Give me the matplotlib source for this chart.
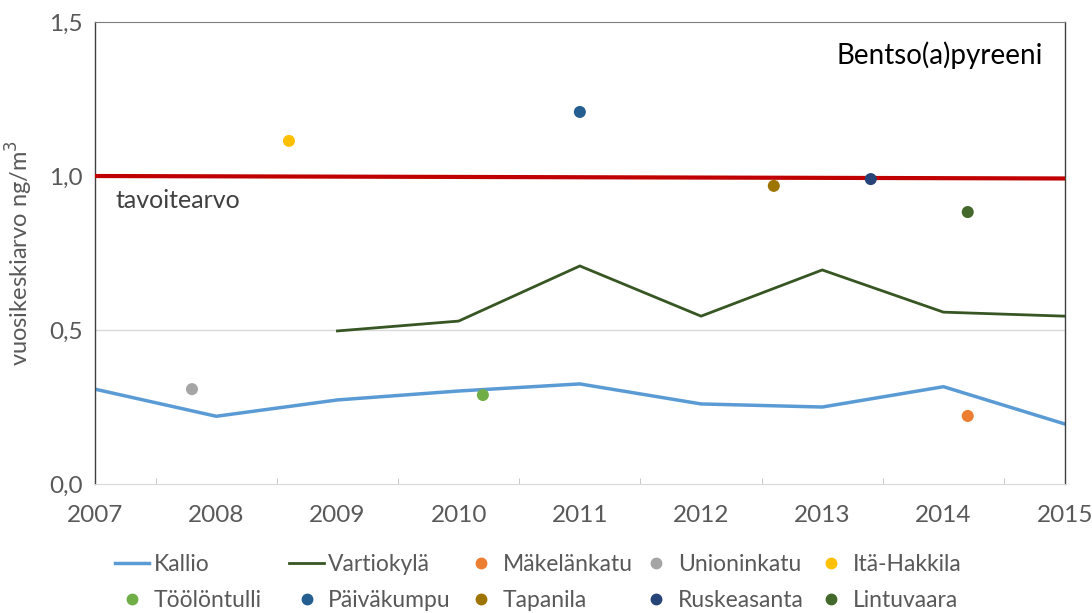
import numpy as np
import matplotlib.pyplot as plt
from matplotlib.lines import Line2D
from matplotlib.ticker import FuncFormatter, MultipleLocator

plt.rcParams['font.family'] = ['Lato', 'DejaVu Sans']

# --- data ---
years = [2007, 2008, 2009, 2010, 2011, 2012, 2013, 2014, 2015]
kallio = [0.308, 0.220, 0.273, 0.302, 0.325, 0.260, 0.250, 0.316, 0.195]
vartio_years = [2009, 2010, 2011, 2012, 2013, 2014, 2015]
vartio = [0.497, 0.529, 0.708, 0.545, 0.695, 0.558, 0.545]
target_x = [2007, 2015]
target_y = [1.0, 0.992]

sites = ['Mäkelänkatu', 'Unioninkatu', 'Itä-Hakkila', 'Töölöntulli', 'Päiväkumpu',
         'Tapanila', 'Ruskeasanta', 'Lintuvaara']
site_x = [2014.2, 2007.8, 2008.6, 2010.2, 2011.0, 2012.6, 2013.4, 2014.2]
site_y = [0.221, 0.308, 1.114, 0.289, 1.208, 0.968, 0.990, 0.883]
site_colors = ['#ED7D31', '#A5A5A5', '#FFC000', '#70AD47', '#255E91',
               '#9E7400', '#264478', '#43682B']

grey = '#595959'

fig = plt.figure(figsize=(10.92, 6.13), dpi=100)
ax = fig.add_axes([0.087, 0.2104, 0.888, 0.7537])

ax.axhline(0.5, color='#D9D9D9', lw=1, zorder=0)
l_kallio, = ax.plot(years, kallio, color='#5B9BD5', lw=2.5, label='Kallio',
                    solid_joinstyle='miter')
l_vartio, = ax.plot(vartio_years, vartio, color='#375623', lw=2.0,
                    label='Vartiokylä', solid_joinstyle='miter')
ax.plot(target_x, target_y, color='#C00000', lw=3.0, zorder=3)

pts = []
for name, x, y, c in zip(sites, site_x, site_y, site_colors):
    ax.scatter([x], [y], s=75, color=c, zorder=4, edgecolors='none')
    pts.append(Line2D([], [], ls='none', marker='o', ms=7.5, color=c, label=name))

ax.set_xlim(2007, 2015)
ax.set_ylim(0, 1.5)
ax.set_yticks([0, 0.5, 1.0, 1.5])
ax.yaxis.set_major_formatter(FuncFormatter(lambda v, p: f'{v:.1f}'.replace('.', ',')))
ax.set_xticks(years)
ax.xaxis.set_minor_locator(MultipleLocator(0.5))
ax.tick_params(axis='x', which='major', length=0, pad=15, labelsize=17.5, labelcolor=grey)
ax.tick_params(axis='x', which='minor', length=4, direction='in', color='#BFBFBF')
ax.tick_params(axis='y', length=0, pad=9, labelsize=17.5, labelcolor=grey)

for s in ['left', 'right']:
    ax.spines[s].set_color('#404040')
    ax.spines[s].set_linewidth(1.0)
ax.spines['top'].set_color('#7F7F7F')
ax.spines['bottom'].set_color('#D9D9D9')

ax.set_ylabel('vuosikeskiarvo ng/m$^3$', fontsize=17, color=grey, labelpad=10)
ax.text(2007.17, 0.92, 'tavoitearvo', fontsize=18, color='#404040', va='center')
ax.text(0.978, 0.928, 'Bentso(a)pyreeni', transform=ax.transAxes, fontsize=20,
        color='black', ha='right', va='center')

# legend: five equal columns, two rows
handles = [l_kallio, l_vartio] + pts
cols = [[handles[i], handles[i + 5]] for i in range(5)]
for i, col in enumerate(cols):
    fig.legend(handles=col, loc='upper left', bbox_to_anchor=(0.105 + i * 0.16, 0.096),
               frameon=False, fontsize=16.5, labelcolor=grey, handlelength=1.5,
               handletextpad=0.2, labelspacing=0.65, borderaxespad=0, borderpad=0)

fig.savefig('out.png', dpi=100)
